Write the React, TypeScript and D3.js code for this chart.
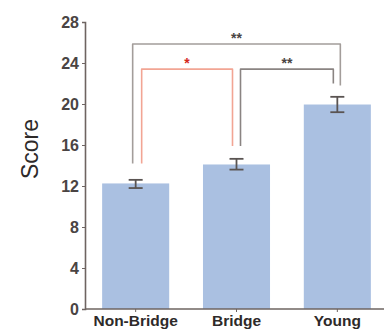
import React, { useEffect, useRef } from 'react';
import * as d3 from 'd3';

const groups = ['Non-Bridge', 'Bridge', 'Young'];
const means = [12.25, 14.1, 19.95];
const errLow = [11.8, 13.6, 19.2];
const errHigh = [12.6, 14.65, 20.7];
const yTicks = [0, 4, 8, 12, 16, 20, 24, 28];

// brackets: from group, to group, bar level, leg ends (left, right), label, colour
const brackets = [
  { a: 0, b: 2, level: 25.85, endA: 14.2, endB: 21.8, label: '**', color: '#a39d9a', textColor: '#4a4443', da: -3, db: 3 },
  { a: 0, b: 1, level: 23.4, endA: 14.2, endB: 15.9, label: '*', color: '#f2a594', textColor: '#d42a1c', da: 6, db: -4 },
  { a: 1, b: 2, level: 23.4, endA: 15.9, endB: 22.0, label: '**', color: '#8a8482', textColor: '#4a4443', da: 4, db: -4 },
];

const W = 384;
const H = 332;
const left = 85;
const top = 22;
const bottom = 309;

export default function App() {
  const svgRef = useRef<SVGSVGElement>(null);

  useEffect(() => {
    const svg = d3.select(svgRef.current);
    svg.selectAll('*').remove();

    const x = d3.scaleBand().domain(groups).range([left, left + 303]).paddingInner(0.335).paddingOuter(0.17);
    const y = d3.scaleLinear().domain([0, 28]).range([bottom, top]);
    const cx = (i: number) => (x(groups[i]) as number) + x.bandwidth() / 2;

    // bars
    svg.append('g').selectAll('rect').data(means).join('rect')
      .attr('x', (d, i) => x(groups[i]) as number)
      .attr('y', d => y(d))
      .attr('width', x.bandwidth())
      .attr('height', d => y(0) - y(d))
      .attr('fill', '#aac0e1');

    // error bars
    const eb = svg.append('g').attr('stroke', '#5a5452').attr('stroke-width', 1.8);
    groups.forEach((g, i) => {
      const c = cx(i);
      eb.append('line').attr('x1', c).attr('x2', c).attr('y1', y(errLow[i])).attr('y2', y(errHigh[i]));
      eb.append('line').attr('x1', c - 7).attr('x2', c + 7).attr('y1', y(errLow[i])).attr('y2', y(errLow[i]));
      eb.append('line').attr('x1', c - 7).attr('x2', c + 7).attr('y1', y(errHigh[i])).attr('y2', y(errHigh[i]));
    });

    // y axis
    const ya = svg.append('g').attr('transform', `translate(${left},0)`)
      .call(d3.axisLeft(y).tickValues(yTicks).tickSize(3).tickPadding(3));
    ya.select('.domain').attr('stroke', '#6e6461').attr('stroke-width', 1.6);
    ya.selectAll('.tick line').attr('stroke', '#6e6461');
    ya.selectAll('.tick text').attr('fill', '#4a4443').attr('font-size', 16).attr('font-weight', 'bold')
      .attr('font-family', 'Liberation Sans, Arial, sans-serif');

    // x axis
    const xa = svg.append('g').attr('transform', `translate(0,${bottom})`)
      .call(d3.axisBottom(x).tickSize(3).tickSizeOuter(0).tickPadding(3));
    xa.select('.domain').attr('stroke', '#6e6461').attr('stroke-width', 1.6).attr('d', `M${left},0H${W}`);
    xa.selectAll('.tick line').attr('stroke', '#6e6461');
    xa.selectAll('.tick text').attr('fill', '#2e2a29').attr('font-size', 15.5).attr('font-weight', 'bold')
      .attr('font-family', 'Liberation Sans, Arial, sans-serif');

    // axis title
    svg.append('text')
      .attr('transform', `translate(38,149) rotate(-90)`)
      .attr('text-anchor', 'middle')
      .attr('font-size', 23)
      .attr('font-family', 'Liberation Sans, Arial, sans-serif')
      .attr('fill', '#2e2a29')
      .text('Score');

    // significance brackets
    brackets.forEach(br => {
      const xa0 = cx(br.a) + br.da;
      const xb0 = cx(br.b) + br.db;
      const path = d3.path();
      path.moveTo(xa0, y(br.endA));
      path.lineTo(xa0, y(br.level));
      path.lineTo(xb0, y(br.level));
      path.lineTo(xb0, y(br.endB));
      svg.append('path').attr('d', path.toString()).attr('fill', 'none')
        .attr('stroke', br.color).attr('stroke-width', 1.6).attr('stroke-linejoin', 'round');
      svg.append('text')
        .attr('x', (xa0 + xb0) / 2)
        .attr('y', y(br.level) - 1)
        .attr('text-anchor', 'middle')
        .attr('font-size', 14)
        .attr('font-weight', 'bold')
        .attr('font-family', 'Liberation Sans, Arial, sans-serif')
        .attr('fill', br.textColor)
        .text(br.label);
    });
  }, []);

  return <svg ref={svgRef} width={W} height={H} style={{ position: 'absolute', left: 0, top: 0 }} />;
}
